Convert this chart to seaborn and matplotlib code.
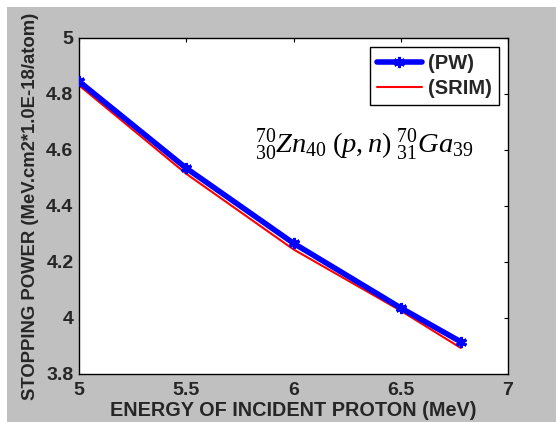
import matplotlib
matplotlib.use("Agg")
import matplotlib.pyplot as plt
import seaborn as sns
import pandas as pd
from matplotlib.patches import Rectangle

energy = [5.0, 5.5, 6.0, 6.5, 6.78]
pw_values = [4.845, 4.535, 4.267, 4.036, 3.915]
srim_values = [4.831, 4.515, 4.245, 4.026, 3.893]
x_ticks = [5, 5.5, 6, 6.5, 7]
x_tick_labels = ["5", "5.5", "6", "6.5", "7"]
y_ticks = [3.8, 4.0, 4.2, 4.4, 4.6, 4.8, 5.0]
y_tick_labels = ["3.8", "4", "4.2", "4.4", "4.6", "4.8", "5"]

sns.set_style("white")
plt.rcParams["font.family"] = ["Liberation Sans", "DejaVu Sans"]
plt.rcParams["mathtext.fontset"] = "custom"
plt.rcParams["mathtext.rm"] = "Liberation Serif"
plt.rcParams["mathtext.it"] = "Liberation Serif:italic"

df = pd.DataFrame({
    "energy": energy * 2,
    "sp": pw_values + srim_values,
    "series": ["(PW)"] * len(energy) + ["(SRIM)"] * len(energy),
})

fig = plt.figure(figsize=(5.56, 4.22), dpi=100, facecolor="white")
fig.patches.append(Rectangle((7 / 556, 0), 1, 1 - 7 / 422, transform=fig.transFigure,
                             facecolor="#c0c0c0", edgecolor="none", zorder=-10))
ax = fig.add_axes([79 / 556, 48 / 422, (508 - 79) / 556, (374 - 38) / 422])
ax.set_facecolor("white")

sns.lineplot(data=df[df.series == "(PW)"], x="energy", y="sp", ax=ax, color="#0000ff",
             linewidth=4.0, marker=(6, 2, 0), markersize=8, markeredgewidth=2.2,
             markeredgecolor="#0000ff", label="(PW)", zorder=3)
sns.lineplot(data=df[df.series == "(SRIM)"], x="energy", y="sp", ax=ax, color="#ff0000",
             linewidth=1.5, label="(SRIM)", zorder=2)

fs = 14
ax.set_xlim(5, 7)
ax.set_ylim(3.8, 5.0)
ax.set_xticks(x_ticks)
ax.set_xticklabels(x_tick_labels, fontweight="bold", fontsize=fs)
ax.set_yticks(y_ticks)
ax.set_yticklabels(y_tick_labels, fontweight="bold", fontsize=fs)
ax.tick_params(direction="in", length=3, width=0.8, top=True, right=True,
               color="black")
ax.tick_params(axis="x", pad=6)
ax.tick_params(axis="y", pad=4)
for s in ax.spines.values():
    s.set_color("black")
    s.set_linewidth(1.0)

ax.set_xlabel("ENERGY OF INCIDENT PROTON (MeV)", fontsize=14.3, fontweight="bold", labelpad=1)
ax.set_ylabel("STOPPING POWER (MeV.cm2*1.0E-18/atom)", fontsize=13.3, fontweight="bold", labelpad=5)

ax.text(0.41, 0.68, r"$^{70}_{30}Zn_{40}\;(p,n)\;^{70}_{31}Ga_{39}$", transform=ax.transAxes,
        fontsize=20.5, ha="left", va="center", color="black")

leg = ax.legend(loc="upper right", frameon=True, fancybox=False, edgecolor="black",
                framealpha=1, handlelength=2.25, borderaxespad=0.45,
                prop={"weight": "bold", "size": 14.5}, labelspacing=0.3,
                handletextpad=0.3, borderpad=0.35)
leg.get_frame().set_linewidth(1.0)

fig.savefig("out.png", dpi=100, facecolor=fig.get_facecolor())
